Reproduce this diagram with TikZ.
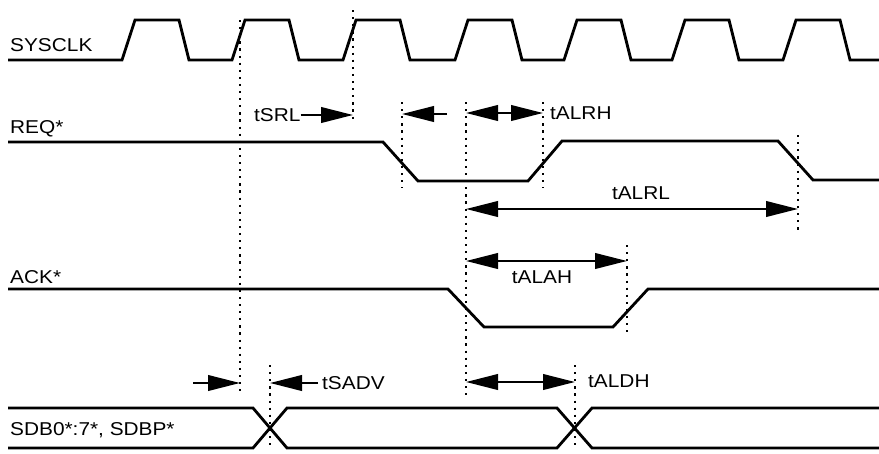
\documentclass[tikz,border=0pt]{standalone}
\usepackage{fontspec}
\setmainfont{Liberation Sans}[FakeStretch=1.12]
\usetikzlibrary{arrows.meta}

\begin{document}
\begin{tikzpicture}[x=1pt, y=-1pt,
    signal/.style={line width=2.8pt},
    guide/.style={line width=2.2pt, dash pattern=on 2.2pt off 4.9pt},
    timearrow/.style={line width=2.4pt, -{Triangle[length=32pt, width=15.5pt]}},
    timespan/.style={line width=2.4pt, {Triangle[length=32pt, width=15.5pt]}-{Triangle[length=32pt, width=15.5pt]}},
    lbl/.style={inner sep=0pt, font=\fontsize{18.6}{20}\selectfont}]
  \useasboundingbox (0,0) rectangle (879,453);

  % signal names
  \node[lbl, anchor=base west] (sysclk) at (10,51.5) {SYSCLK};
  \node[lbl, anchor=base west] (req) at (10,133) {REQ*};
  \node[lbl, anchor=base west] (ack) at (10,283) {ACK*};
  \node[lbl, anchor=base west] (sdb) at (10,435) {SDB0*:7*, SDBP*};

  % waveforms
  \draw[signal] (8,60) foreach \t in {122,232,343,455,564,672,783} {
      -- (\t,60) -- ({\t+13},20) -- ({\t+57},20) -- ({\t+67},60) } -- (879,60);
  \draw[signal] (8,142) -- (383,142) -- (418,181) -- (528,181) -- (562,141)
      -- (778,141) -- (813,180) -- (879,180);
  \draw[signal] (8,289) -- (448,289) -- (484,327) -- (613,327) -- (648,289) -- (879,289);
  \draw[signal] (8,408) -- (253,408) -- (287,448) -- (557,448) -- (592,408) -- (879,408);
  \draw[signal] (8,448) -- (253,448) -- (287,408) -- (557,408) -- (592,448) -- (879,448);

  % dotted reference lines
  \foreach \n/\x/\a/\b in {g1/240/20/393, g2/353/10/122, g3/402/102/188,
      g4/466/102/400, g5/543/102/188, g6/798/135/230, g7/627/245/332,
      g8/575/365/450, g9/270/365/450} {
    \coordinate (\n) at (\x,\a);
    \draw[guide] (\n) -- (\x,\b);
  }

  % timing parameters
  \node[lbl, anchor=west] (tsrl) at (254,115) {tSRL};
  \draw[timearrow] (tsrl.east) -- (tsrl.east -| g2);
  \coordinate (reqin) at (447,114);
  \draw[timearrow] (reqin) -- (reqin -| g3);

  \node[lbl, anchor=west] (talrh) at (550,113) {tALRH};
  \draw[timespan] (g4 |- 0,113) -- (g5 |- 0,113);

  \node[lbl] (talrl) at (641,193.5) {tALRL};
  \draw[timespan] (g4 |- 0,209) -- (g6 |- 0,209);

  \node[lbl] (talah) at (542,277) {tALAH};
  \draw[timespan] (g4 |- 0,261) -- (g7 |- 0,261);

  \coordinate (sdbin) at (193,383);
  \draw[timearrow] (sdbin) -- (sdbin -| g1);
  \node[lbl, anchor=west] (tsadv) at (322,383) {tSADV};
  \draw[timearrow] ([xshift=-4pt]tsadv.west) -- (tsadv.west -| g9);

  \node[lbl, anchor=west] (taldh) at (588,381) {tALDH};
  \draw[timespan] (g4 |- 0,382) -- (g8 |- 0,382);
\end{tikzpicture}
\end{document}
